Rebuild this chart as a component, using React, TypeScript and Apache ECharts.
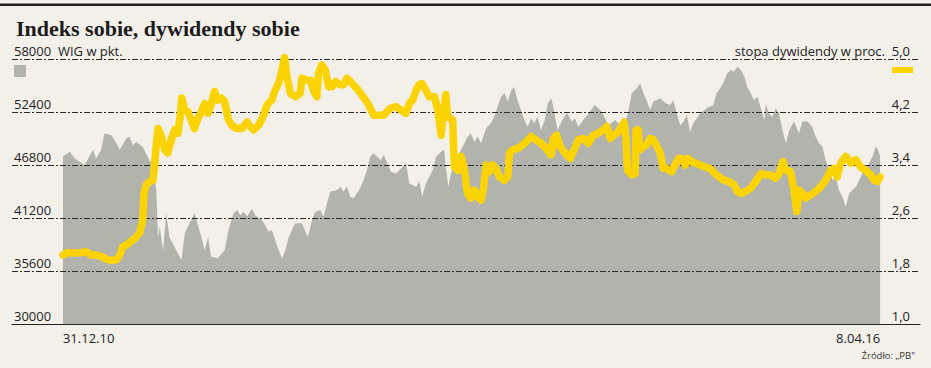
import React, { useEffect, useRef } from 'react';
import * as echarts from 'echarts';

// x values are days counted from 31.12.2010
const xTickDays = [0, 1925];
const xTickLabels = ['31.12.10', '8.04.16'];

const wigMin = 30000;
const wigMax = 58000;
const wigStep = 5600;
const yieldMin = 1.0;
const yieldMax = 5.0;
const yieldStep = 0.8;

const wigName = 'WIG w pkt.';
const yieldName = 'stopa dywidendy w proc.';

const wigSeries: [number, number][] = [
  [0, 47700], [16, 48200], [28, 47500], [51, 46800], [71, 48400], [78, 47500], [90, 48400], [98, 50150],
  [114, 49970], [126, 49100], [134, 48400], [149, 49600], [157, 49800], [165, 48900], [173, 49250], [188, 48700],
  [204, 47300], [212, 46800], [220, 44150], [224, 39200], [228, 40300], [236, 37800], [243, 41700], [251, 39200],
  [267, 37800], [279, 36750], [287, 39600], [302, 41000], [310, 41700], [326, 39200], [334, 37800], [342, 39200],
  [349, 37100], [365, 36950], [381, 37800], [390, 39950], [402, 41700], [410, 42050], [418, 41500], [426, 41850],
  [434, 41350], [445, 42200], [453, 41500], [469, 41000], [485, 39750], [492, 39950], [508, 37800], [516, 36950],
  [524, 37800], [532, 39200], [547, 40650], [563, 40650], [577, 39200], [587, 41000], [594, 41850], [606, 42050],
  [614, 41350], [622, 42750], [630, 44000], [646, 44150], [653, 44500], [661, 44000], [669, 44500], [677, 43450],
  [685, 43300], [700, 44350], [708, 45200], [716, 46250], [724, 47700], [732, 48050], [740, 47700], [748, 47300],
  [756, 47850], [773, 46050], [785, 45900], [800, 46600], [808, 47000], [816, 44850], [832, 44500], [840, 45050],
  [846, 43450], [855, 44850], [871, 46250], [879, 47700], [891, 48200], [898, 48400], [902, 46600], [908, 44500],
  [914, 45900], [922, 47300], [938, 48400], [954, 49800], [961, 50150], [969, 49250], [977, 49800], [985, 49100],
  [997, 50700], [1008, 51200], [1016, 51900], [1024, 52950], [1032, 54000], [1040, 54400], [1048, 53500], [1056, 54700],
  [1063, 55050], [1071, 53650], [1079, 52600], [1087, 51550], [1095, 50850], [1103, 51750], [1110, 51200], [1118, 51900],
  [1126, 50500], [1134, 51400], [1142, 53300], [1150, 53850], [1155, 52950], [1165, 50500], [1175, 51400], [1187, 52350],
  [1199, 51400], [1206, 51750], [1214, 50850], [1226, 51550], [1238, 52250], [1253, 53150], [1269, 52450], [1285, 51000],
  [1301, 51550], [1316, 50850], [1324, 51200], [1332, 52450], [1340, 54400], [1352, 54900], [1360, 55450], [1367, 54400],
  [1375, 53650], [1383, 52600], [1391, 53500], [1407, 53850], [1418, 53400], [1430, 53150], [1438, 53650], [1446, 52250],
  [1454, 51000], [1462, 51400], [1470, 52100], [1477, 50300], [1485, 51200], [1501, 52250], [1517, 52800], [1532, 53150],
  [1540, 54400], [1550, 55050], [1557, 55600], [1565, 56500], [1573, 56850], [1581, 56650], [1589, 57200], [1597, 56850],
  [1605, 56150], [1612, 55050], [1620, 54400], [1628, 53650], [1636, 54000], [1644, 52800], [1652, 51550], [1656, 53300],
  [1663, 52250], [1671, 51900], [1679, 52800], [1687, 52250], [1695, 50500], [1703, 49100], [1711, 50500], [1722, 51400],
  [1734, 50150], [1742, 51400], [1754, 51400], [1765, 50850], [1773, 49800], [1781, 49100], [1789, 48750], [1797, 47300],
  [1805, 46250], [1813, 45200], [1821, 45550], [1828, 44150], [1836, 43450], [1844, 42400], [1852, 43800], [1860, 44150],
  [1868, 44500], [1876, 45200], [1883, 45900], [1891, 46250], [1899, 46950], [1907, 47700], [1915, 48750], [1920, 48400],
  [1925, 47700],
];

const yieldSeries: [number, number][] = [
  [0, 2.04], [12, 2.08], [28, 2.07], [43, 2.08], [55, 2.09], [67, 2.04], [78, 2.04], [90, 2.02], [102, 1.98], [114, 1.96],
  [126, 1.97], [134, 2.04], [141, 2.17], [149, 2.19], [157, 2.23], [169, 2.29], [181, 2.38], [188, 2.57], [191, 2.97],
  [196, 3.10], [204, 3.15], [212, 3.17], [216, 3.40], [220, 3.73], [224, 3.95], [232, 3.83], [240, 3.63], [247, 3.58],
  [255, 3.78], [263, 3.93], [271, 3.88], [277, 4.18], [280, 4.41], [287, 4.23], [295, 4.20], [302, 4.08], [310, 3.95],
  [318, 4.10], [326, 4.20], [334, 4.33], [342, 4.18], [349, 4.31], [357, 4.51], [365, 4.38], [373, 4.41], [381, 4.36],
  [390, 4.08], [398, 4.00], [410, 3.95], [422, 3.95], [434, 4.05], [441, 3.98], [449, 3.93], [461, 4.00], [473, 4.15],
  [481, 4.31], [492, 4.38], [500, 4.53], [508, 4.63], [516, 4.83], [522, 5.02], [528, 4.73], [536, 4.48], [547, 4.43],
  [559, 4.48], [563, 4.71], [575, 4.68], [583, 4.68], [591, 4.51], [598, 4.43], [602, 4.78], [610, 4.91], [618, 4.83],
  [626, 4.58], [634, 4.58], [642, 4.66], [653, 4.61], [661, 4.61], [669, 4.71], [677, 4.66], [689, 4.58], [704, 4.46],
  [720, 4.31], [732, 4.15], [744, 4.15], [756, 4.15], [767, 4.23], [773, 4.26], [785, 4.28], [796, 4.23], [808, 4.18],
  [816, 4.33], [824, 4.38], [832, 4.53], [839, 4.61], [846, 4.63], [855, 4.53], [863, 4.43], [875, 4.43], [883, 4.23],
  [891, 3.85], [895, 4.13], [902, 4.46], [906, 4.13], [918, 4.08], [922, 3.37], [930, 3.32], [938, 3.53], [946, 3.32],
  [953, 2.97], [961, 2.90], [969, 3.02], [977, 2.92], [985, 2.87], [990, 3.02], [997, 3.40], [1004, 3.30], [1012, 3.40],
  [1020, 3.35], [1028, 3.22], [1040, 3.17], [1048, 3.22], [1052, 3.58], [1060, 3.63], [1071, 3.65], [1079, 3.68],
  [1091, 3.75], [1103, 3.83], [1114, 3.78], [1126, 3.73], [1138, 3.65], [1150, 3.55], [1155, 3.80], [1163, 3.85],
  [1171, 3.68], [1183, 3.58], [1195, 3.50], [1202, 3.60], [1214, 3.78], [1226, 3.80], [1238, 3.73], [1249, 3.85],
  [1261, 3.88], [1273, 3.93], [1281, 3.98], [1289, 3.80], [1297, 3.85], [1308, 3.90], [1316, 3.98], [1322, 4.05],
  [1326, 3.83], [1330, 3.32], [1340, 3.25], [1348, 3.27], [1350, 3.93], [1355, 3.93], [1359, 3.63], [1367, 3.68],
  [1375, 3.70], [1383, 3.80], [1391, 3.78], [1399, 3.68], [1407, 3.58], [1414, 3.35], [1422, 3.35], [1434, 3.30],
  [1442, 3.40], [1450, 3.50], [1458, 3.50], [1466, 3.40], [1473, 3.50], [1481, 3.45], [1489, 3.43], [1501, 3.40],
  [1513, 3.37], [1524, 3.35], [1536, 3.27], [1546, 3.22], [1557, 3.17], [1569, 3.15], [1581, 3.10], [1589, 3.00],
  [1597, 2.97], [1609, 3.00], [1620, 3.05], [1632, 3.15], [1644, 3.27], [1656, 3.25], [1667, 3.25], [1679, 3.20],
  [1687, 3.27], [1696, 3.45], [1703, 3.32], [1714, 3.30], [1722, 3.02], [1729, 2.70], [1734, 3.02], [1742, 2.97],
  [1750, 2.90], [1762, 2.95], [1773, 3.00], [1785, 3.07], [1797, 3.17], [1809, 3.32], [1817, 3.35], [1824, 3.22],
  [1832, 3.43], [1844, 3.53], [1856, 3.43], [1868, 3.48], [1879, 3.37], [1891, 3.32], [1903, 3.25], [1911, 3.17],
  [1919, 3.15], [1925, 3.22],
];

const BG = '#f3f0ea';
const GREY = '#b3b3ae';
const YELLOW = '#fbd300';
const INK = '#222222';
const FONT = '"Open Sans", "DejaVu Sans", sans-serif';

export default function App() {
  const ref = useRef<HTMLDivElement>(null);

  useEffect(() => {
    if (!ref.current) return;
    const chart = echarts.init(ref.current, null, { renderer: 'svg' });
    const xMin = -120;
    const xMax = 2019;
    const labelFor = (v: number) => {
      const i = xTickDays.indexOf(v);
      return i >= 0 ? xTickLabels[i] : '';
    };
    const baseX = {
      type: 'value',
      min: xMin,
      max: xMax,
      position: 'bottom',
      z: 2,
      axisTick: { show: false },
      splitLine: { show: false },
    };
    chart.setOption({
      animation: false,
      backgroundColor: BG,
      title: [
        {
          text: 'Indeks sobie, dywidendy sobie',
          left: 11,
          top: 12,
          textStyle: { fontFamily: '"Liberation Serif", serif', fontWeight: 'bold', fontSize: 22, color: '#1c1c1c' },
        },
        {
          text: 'Źródło: „PB"',
          right: 11,
          top: 345,
          textStyle: { fontFamily: FONT, fontWeight: 'normal', fontSize: 9.5, color: '#333' },
        },
      ],
      legend: [
        {
          data: [{ name: wigName, icon: 'rect', itemStyle: { color: GREY } }],
          left: 14,
          top: 65,
          padding: 0,
          itemWidth: 12,
          itemHeight: 12,
          selectedMode: false,
          formatter: () => '',
        },
        {
          data: [{ name: yieldName, icon: 'rect', itemStyle: { color: YELLOW } }],
          right: 18,
          top: 67,
          padding: 0,
          align: 'right',
          itemWidth: 21,
          itemHeight: 6,
          selectedMode: false,
          formatter: () => '',
        },
      ],
      graphic: [
        { type: 'rect', shape: { x: 0, y: 3.5, width: 931, height: 2.5 }, style: { fill: '#1e1e1e' } },
      ],
      grid: { left: 12, right: 11, top: 59, bottom: 44 },
      xAxis: [
        {
          ...baseX,
          axisLine: { show: true, lineStyle: { color: INK, width: 1.2 } },
          axisLabel: {
            customValues: [xTickDays[0]],
            formatter: labelFor,
            align: 'left',
            margin: 7,
            fontFamily: FONT,
            fontSize: 13,
            color: INK,
          },
        },
        {
          ...baseX,
          axisLine: { show: false },
          axisLabel: {
            customValues: [xTickDays[1]],
            formatter: labelFor,
            align: 'right',
            margin: 7,
            fontFamily: FONT,
            fontSize: 13,
            color: INK,
          },
        },
      ],
      yAxis: [
        {
          type: 'value',
          position: 'left',
          min: wigMin,
          max: wigMax,
          interval: wigStep,
          z: 2,
          axisLine: { show: false },
          axisTick: { show: false },
          splitLine: { show: true, lineStyle: { color: '#2a2a2a', width: 1, type: [6, 2, 2, 2] } },
          axisLabel: {
            inside: true,
            margin: 2,
            align: 'left',
            verticalAlign: 'bottom',
            padding: [0, 0, 2, 0],
            fontFamily: FONT,
            fontSize: 13,
            color: INK,
            formatter: (v: number) => (v === wigMax ? `${v}  ${wigName}` : String(v)),
          },
        },
        {
          type: 'value',
          position: 'right',
          min: yieldMin,
          max: yieldMax,
          interval: yieldStep,
          z: 2,
          axisLine: { show: false },
          axisTick: { show: false },
          splitLine: { show: false },
          axisLabel: {
            inside: true,
            margin: 10,
            align: 'right',
            verticalAlign: 'bottom',
            padding: [0, 0, 2, 0],
            fontFamily: FONT,
            fontSize: 13,
            color: INK,
            formatter: (v: number) => {
              const s = v.toFixed(1).replace('.', ',');
              return Math.abs(v - yieldMax) < 1e-6 ? `${yieldName}  ${s}` : s;
            },
          },
        },
      ],
      series: [
        {
          name: wigName,
          type: 'line',
          xAxisIndex: 0,
          yAxisIndex: 0,
          data: wigSeries,
          symbol: 'none',
          z: 1,
          itemStyle: { color: GREY },
          lineStyle: { width: 0, color: GREY },
          areaStyle: { color: GREY, opacity: 1, origin: 'start' },
        },
        {
          name: yieldName,
          type: 'line',
          xAxisIndex: 0,
          yAxisIndex: 1,
          data: yieldSeries,
          symbol: 'none',
          z: 3,
          clip: false,
          itemStyle: { color: YELLOW },
          lineStyle: { width: 7.5, color: YELLOW, cap: 'round', join: 'round' },
        },
      ],
    });
    return () => chart.dispose();
  }, []);

  return (
    <div
      ref={ref}
      style={{ position: 'fixed', left: 0, top: 0, width: 931, height: 368, background: BG }}
    />
  );
}
